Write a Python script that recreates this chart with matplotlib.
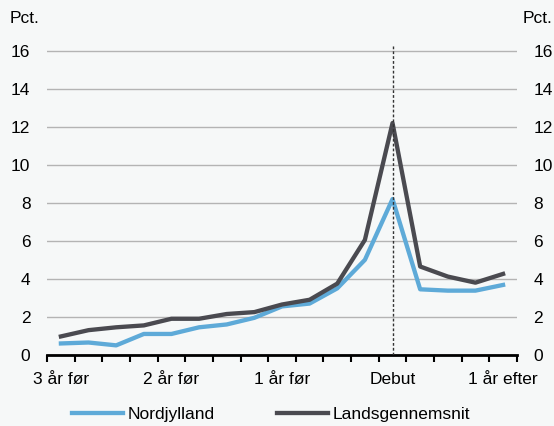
import matplotlib.pyplot as plt
import numpy as np

plt.rcParams['font.family'] = ['Liberation Sans', 'DejaVu Sans']

# kvartaler fra 3 år før til 1 år efter debut
quarters = list(range(-12, 5))
nordjylland = [0.6, 0.65, 0.5, 1.1, 1.1, 1.45, 1.6, 1.95, 2.55, 2.7, 3.5, 5.0, 8.2,
               3.45, 3.38, 3.38, 3.68]
landsgennemsnit = [0.97, 1.3, 1.45, 1.55, 1.9, 1.9, 2.15, 2.25, 2.65, 2.9, 3.75, 6.05, 12.2,
                   4.65, 4.12, 3.8, 4.26]
tick_labels = ['3 år før', '2 år før', '1 år før', 'Debut', '1 år efter']
tick_quarters = [-12, -8, -4, 0, 4]
yticks = [0, 2, 4, 6, 8, 10, 12, 14, 16]

bg = '#f6f8f8'
blue = '#5eaad8'
grey = '#4a4a50'
fs = 12.5

fig = plt.figure(figsize=(5.54, 4.26), dpi=100, facecolor=bg)
ax = fig.add_axes([0.085, 0.167, 0.848, 0.727])
ax.set_facecolor(bg)

x = np.arange(len(quarters))
ax.plot(x, nordjylland, color=blue, lw=3.1, label='Nordjylland', zorder=3)
ax.plot(x, landsgennemsnit, color=grey, lw=3.1, label='Landsgennemsnit', zorder=3)

debut = quarters.index(0)
ax.axvline(debut, color='#333333', lw=1, ls=(0, (2, 1.5)), zorder=4)

ax.set_xlim(-0.5, len(quarters) - 0.5)
ax.set_ylim(0, 16.3)
ax.set_yticks(yticks)
ax.grid(axis='y', color='#b4b4b4', lw=1)
ax.set_axisbelow(True)

ax.set_xticks([quarters.index(q) for q in tick_quarters])
ax.set_xticklabels(tick_labels, fontsize=fs)
ax.set_xticks(np.arange(len(quarters) + 1) - 0.5, minor=True)
ax.tick_params(axis='x', which='major', length=0, pad=12)
ax.tick_params(axis='x', which='minor', length=5, width=1.5, direction='out')

ax.tick_params(axis='y', length=0, labelsize=fs, labelleft=True, labelright=True, pad=12)
for s in ['left', 'right', 'top']:
    ax.spines[s].set_visible(False)
ax.spines['bottom'].set_linewidth(2)

fig.text(0.018, 0.945, 'Pct.', fontsize=fs)
fig.text(0.943, 0.945, 'Pct.', fontsize=fs)

ax.legend(loc='upper center', bbox_to_anchor=(0.477, -0.118), ncol=2, frameon=False,
          fontsize=fs, handlelength=2.95, handletextpad=0.25, columnspacing=3.6)

fig.savefig('out.png', dpi=100, facecolor=bg)
